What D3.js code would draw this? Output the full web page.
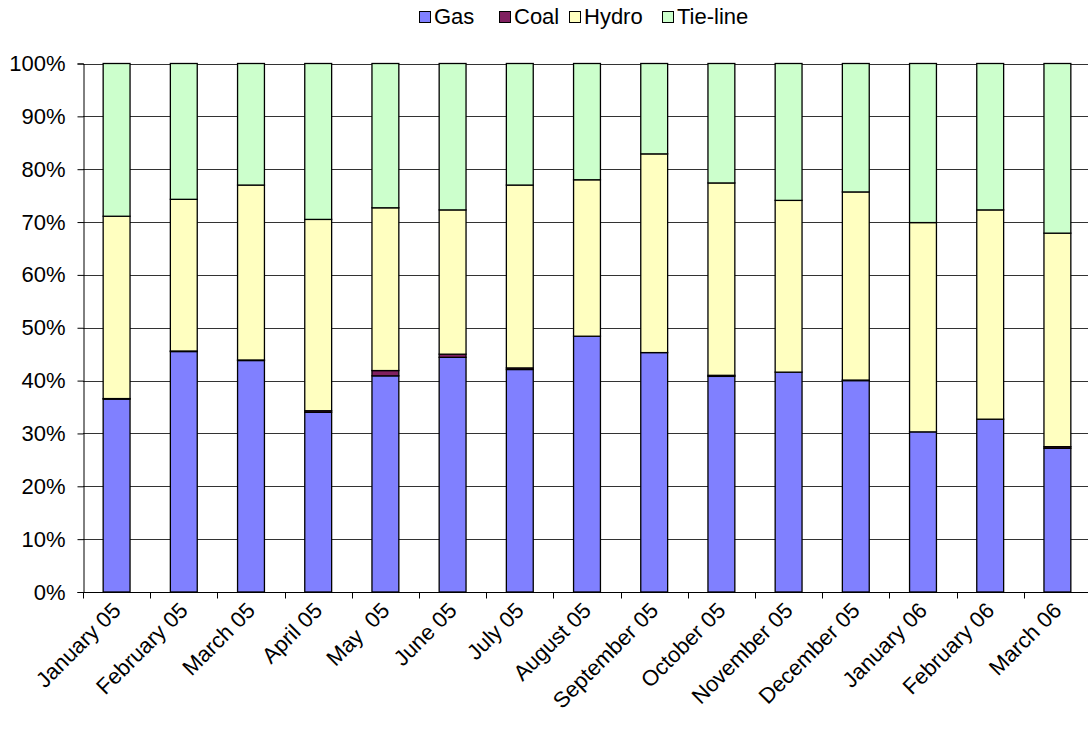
<!DOCTYPE html>
<html><head><meta charset="utf-8">
<script src="https://cdn.jsdelivr.net/npm/d3@7"></script>
<style>body{margin:0;background:#fff}svg{display:block}text{font-family:"Liberation Sans",Arial,sans-serif;fill:#000}</style>
</head><body>
<svg id="c" width="1088" height="733"></svg>
<script>
const months = ["January 05","February 05","March 05","April 05","May  05","June 05","July 05","August 05","September 05","October 05","November 05","December 05","January 06","February 06","March 06"];
const gas   = [36.5,45.5,43.8,34.0,40.9,44.4,42.1,48.4,45.3,40.8,41.6,40.0,30.3,32.7,27.2];
const coal  = [0.1,0.1,0.1,0.3,1.0,0.6,0.3,0,0,0.2,0,0.1,0,0,0.3];
const hydro = [34.5,28.7,33.1,36.2,30.8,27.3,34.6,29.6,37.6,36.4,32.5,35.6,39.6,39.6,40.4];
const tie   = [28.9,25.7,23.0,29.5,27.3,27.7,23.0,22.0,17.1,22.6,25.9,24.3,30.1,27.7,32.1];
const seriesNames = ["Gas","Coal","Hydro","Tie-line"];
const colors = ["#8080ff","#802060","#ffffc0","#ccffcc"];
const yTicks = [0,10,20,30,40,50,60,70,80,90,100];

const svg = d3.select("#c");
const L = 83, R = 1091, T = 63.5, B = 592;
const x = d3.scaleBand().domain(months).range([L, R]).paddingInner(0.6).paddingOuter(0.3);
const y = d3.scaleLinear().domain([0,100]).range([B, T]);

const rows = months.map((m,i)=>({month:m, Gas:gas[i], Coal:coal[i], Hydro:hydro[i], "Tie-line":tie[i]}));
const stack = d3.stack().keys(seriesNames).offset(d3.stackOffsetExpand)(rows);

// gridlines
svg.append("g").selectAll("line").data(yTicks.filter(d=>d>0)).join("line")
  .attr("x1", L).attr("x2", 1088)
  .attr("y1", d=>Math.round(y(d))+0.5).attr("y2", d=>Math.round(y(d))+0.5)
  .attr("stroke","#333").attr("stroke-width",1);

// bars
svg.append("g").selectAll("g").data(stack).join("g")
  .attr("fill",(d,i)=>colors[i])
  .selectAll("rect").data(d=>d).join("rect")
  .attr("x", d=>x(d.data.month))
  .attr("width", x.bandwidth())
  .attr("y", d=>y(d[1]*100))
  .attr("height", d=>y(d[0]*100)-y(d[1]*100))
  .attr("stroke","#000").attr("stroke-width",1.3);

// y axis
const ya = svg.append("g").attr("transform",`translate(${L+0.5},0)`)
  .call(d3.axisLeft(y).tickValues(yTicks).tickFormat(d=>d+"%").tickSize(6).tickPadding(12));
ya.select(".domain").attr("stroke","#000");
ya.selectAll(".tick line").attr("stroke","#000");
ya.selectAll("text").style("font-size","22px").attr("fill","#000");

// x axis
const xa = svg.append("g").attr("transform",`translate(0,${Math.round(B)+0.5})`);
xa.append("line").attr("x1",L).attr("x2",1088).attr("stroke","#000");
const step = x.step();
xa.selectAll("line.t").data(d3.range(months.length+1)).join("line").attr("class","t")
  .attr("x1",i=>Math.round(L+i*step)+0.5).attr("x2",i=>Math.round(L+i*step)+0.5)
  .attr("y1",0).attr("y2",6).attr("stroke","#000");
xa.selectAll("text").data(months).join("text")
  .attr("transform", d=>`translate(${x(d)+x.bandwidth()/2},14) rotate(-45)`)
  .attr("text-anchor","end").attr("dy","0.35em")
  .style("font-size","22px").style("white-space","pre")
  .text(d=>d);

// legend
const lg = svg.append("g");
const lx = [419, 499, 569, 662];
seriesNames.forEach((s,i)=>{
  lg.append("rect").attr("x",lx[i]+0.5).attr("y",11.5).attr("width",11).attr("height",11)
    .attr("fill",colors[i]).attr("stroke","#000");
  lg.append("text").attr("x",lx[i]+15).attr("y",24).style("font-size","22px").text(s);
});
</script>
</body></html>
